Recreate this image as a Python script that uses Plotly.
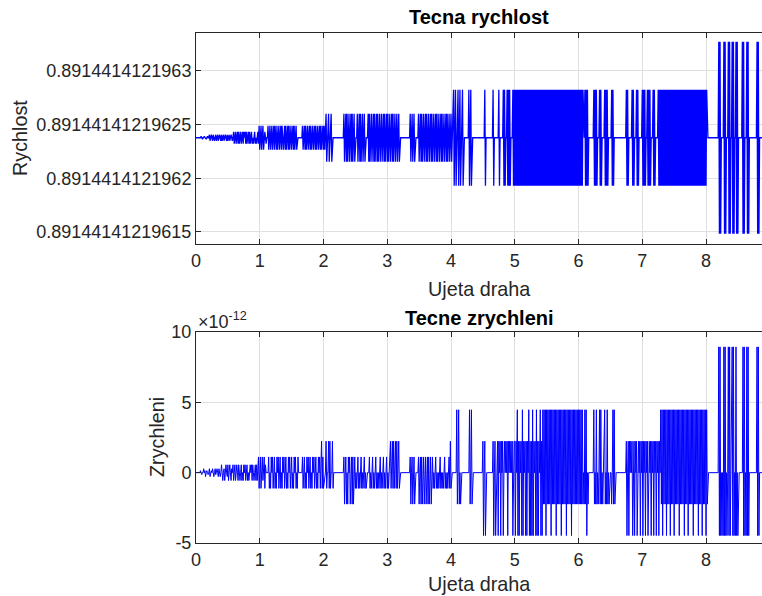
import numpy as np
import plotly.graph_objects as go

# Sampling of the travelled distance
KROK_DRAHY = 0.01
POCET_VZORKU = 889          # samples 0.00 .. 8.88
DRAHA_TICKY = [0, 1, 2, 3, 4, 5, 6, 7, 8]

# Velocity: plotted as deviation (in 1e-14) from RYCHLOST_ZAKLAD
RYCHLOST_ZAKLAD = 0.8914414121962
RYCHLOST_STRED = 3.78       # steady value, 1e-14 above the base
RYCHLOST_KVANTUM = 0.1397   # smallest step, 1e-14
RYCHLOST_TICKY = [0.89144141219615, 0.8914414121962, 0.89144141219625, 0.8914414121963]

# Acceleration: plotted in units of 1e-12
ZRYCHLENI_STRED = 0.0
ZRYCHLENI_KVANTUM = 0.1397  # smallest step, 1e-12
ZRYCHLENI_TICKY = [-5, 0, 5, 10]
ZRYCHLENI_POPISY = ["-5", "0", "5", "10"]

# Level codes per sample: '0' steady value, a..g = +1,2,4,8,16,32,64 steps, A..G negative
UROVNE = {'0': 0}
for znak, nasobek in zip("abcdefg", [1, 2, 4, 8, 16, 32, 64]):
    UROVNE[znak] = nasobek
    UROVNE[znak.upper()] = -nasobek

# Velocity samples: (start of run, codes of consecutive samples)
RYCHLOST_USEKY = [
    (0.00, "00000000a0A00a00A0a0"),
    (0.20, "0bB0b0Bb0B0bB0bB0b0B"),
    (0.40, "bB0bB0b0BbB0bB0b0B0c"),
    (0.60, "C0cC0cCcC0cC0cCc0cCc"),
    (0.80, "C0cCcC0cC0C0cC0C0cCd"),
    (1.00, "D0dD0dD0c0C00dD0dD0d"),
    (1.20, "D0dDd0DdD0dD0dDd0D0d"),
    (1.40, "DdD0dDdD0dD0dDdD0dD0"),
    (1.60, "0000000dD0dDdD0dD0dD"),
    (1.80, "dD0dD0dDdD0dD0dDdD0d"),
    (2.00, "DdD0eE00eE00eE000000"),
    (2.20, "000000000000eE0eEeE0"),
    (2.40, "eE0eEeE0eE000eE0eEeE"),
    (2.60, "0eE0eE0000eEeE0eE0eE"),
    (2.80, "eE0eEeE0eE0eE0eEeE0e"),
    (3.00, "EeE0eE0eEeE0eE0eE0eE"),
    (3.20, "0000000000000000eE0e"),
    (3.40, "E0eE00000eE0eEeE0eE0"),
    (3.60, "eEeE0eE0eEeE0eE0eEeE"),
    (3.80, "0eE0eEeE0eE0eEeE0eE0"),
    (4.00, "eE00fF0fF00fF0fF00fF"),
    (4.20, "00000000fF0fF0000000"),
    (4.40, "0000000000000fF00000"),
    (4.60, "000000fF0000000fF000"),
    (4.80, "00fFfF00fFfFfF000fFf"),
    (5.00, "FfFfFfFfFfFfFfFfFfFf"),
    (5.20, "FfFfFfFfFfFfFfFfFfFf"),
    (5.40, "FfFfFfFfFfFfFfFfFfFf"),
    (5.60, "FfFfFfFfFfFfFfFfFfFf"),
    (5.80, "FfFfFfFfFfFfFfFfFfFf"),
    (6.00, "FfFfFfFf00fFfFfF0000"),
    (6.20, "0000fFfFfF000fFfF000"),
    (6.40, "0fFfFfF00000fFfF0000"),
    (6.60, "000000000000000fFfF0"),
    (6.80, "0000fFfF000fFfF00000"),
    (7.00, "fFfFfF00fFfFfF000fFf"),
    (7.20, "F0000fFfFfFfFfFfFfFf"),
    (7.40, "FfFfFfFfFfFfFfFfFfFf"),
    (7.60, "FfFfFfFfFfFfFfFfFfFf"),
    (7.80, "FfFfFfFfFfFfFfFfFfFf"),
    (8.00, "Ff000000000000000000"),
    (8.20, "gGgG0000gGgG000gGgG0"),
    (8.40, "0gGgG00gGgG000000gGg"),
    (8.60, "G000gGgG000000000000"),
    (8.80, "gGgG0000"),
]

# Acceleration samples: (start of run, codes of consecutive samples)
ZRYCHLENI_USEKY = [
    (0.00, "0000000a0A00b0aB0a0A"),
    (0.20, "0bB0a0b0B0bA0b0Bb0B0"),
    (0.40, "c0C0bC0c0BcC0c0Cb0cC"),
    (0.60, "0cC0c0Cc0C0cC0Cc0cC0"),
    (0.80, "cC0C0c0cCc0C0cCcC0dD"),
    (1.00, "0dD0dC0dDc0000dD0Dd0"),
    (1.20, "dD0dD0Dd0dD0dD0Dd0dD"),
    (1.40, "0dD0Dd0dD0dD0Dd0dD0D"),
    (1.60, "d000000dD0dD0Dd0dD0d"),
    (1.80, "D0Dd0dD0dD0Dd0dD0eDd"),
    (2.00, "DC00eD00eDeD00eD0000"),
    (2.20, "000000000000dE0dE0Ed"),
    (2.40, "0dE0dEdE0dD0D0dD0D0d"),
    (2.60, "D0D0dD0D0000dD0D0dD0"),
    (2.80, "D0dD0D0D0dD0D0dD0D0d"),
    (3.00, "D0D00eD0eDeD0eDeD0eD"),
    (3.20, "0000000000000000dE0d"),
    (3.40, "E0dE00000dE0dEdE0dE0"),
    (3.60, "dE0dEdE0dE0dD0D0dD0D"),
    (3.80, "0D0dD0D0D0dD0D0D0dDe"),
    (4.00, "D00000000fE0fE0E0000"),
    (4.20, "000000000fE0fE000000"),
    (4.40, "0000000000eF0eF00000"),
    (4.60, "000000eF0eF00eFe0eFe"),
    (4.80, "0eF0e0e0eFe0e0e0eF0e"),
    (5.00, "eFe0fFeFe0eFfFe0eFeF"),
    (5.20, "e0fFeFeFfFe0eFfFeFe0"),
    (5.40, "fFeFfEfEfFfEfEfEfFfE"),
    (5.60, "fEfEfFfEfEfEfFfEfEfE"),
    (5.80, "fFfEfEfEfFfEfEfEfEfE"),
    (6.00, "fEfEfEfE0EfEfF0E0000"),
    (6.20, "0000fE0EfE0E0fEfE0E0"),
    (6.40, "0fE0EfE0E000E0fEfE00"),
    (6.60, "000000000000000eF0eF"),
    (6.80, "e0e0eF0eFe0eF0e0eFe0"),
    (7.00, "eFe0eFe0eF0e0eFe0eFe"),
    (7.20, "0eFe0eFe0fEfFfEfEfFf"),
    (7.40, "EfEfFfEfEfFfEfEfEfFf"),
    (7.60, "EfEfEfFfEfEfFfEfEfEf"),
    (7.80, "FfEfEfEfFfEfEfFfEfEf"),
    (8.00, "FfE00000000000000000"),
    (8.20, "gFgF0F0FgFgF0F0gFgF0"),
    (8.40, "0gFgF0FgF0F0000000gF"),
    (8.60, "gF0FgFgF000000000000"),
    (8.80, "gFgF0000"),
]


def rozvin(useky, stred, kvantum):
    """Expand the coded runs into one value per distance sample."""
    kroky = np.zeros(POCET_VZORKU)
    for zacatek, kody in useky:
        i0 = int(round(zacatek / KROK_DRAHY))
        for k, znak in enumerate(kody):
            kroky[i0 + k] = UROVNE[znak]
    return stred + kvantum * kroky


draha = np.arange(POCET_VZORKU) * KROK_DRAHY
rychlost = rozvin(RYCHLOST_USEKY, RYCHLOST_STRED, RYCHLOST_KVANTUM)
zrychleni = rozvin(ZRYCHLENI_USEKY, ZRYCHLENI_STRED, ZRYCHLENI_KVANTUM)

rychlost_tickpoz = [(t - RYCHLOST_ZAKLAD) * 1e14 for t in RYCHLOST_TICKY]
rychlost_ticktext = [repr(t) for t in RYCHLOST_TICKY]

MODRA = "#0000ff"
OSA = "#262626"
MRIZKA = "#dfdfdf"
PISMO = "Liberation Sans, Arial, Helvetica, sans-serif"
VELIKOST = 18
VELIKOST_POPISU = 19.8

fig = go.Figure()
fig.add_trace(go.Scatter(x=draha, y=rychlost, mode="lines",
                         line=dict(color=MODRA, width=1.3),
                         xaxis="x", yaxis="y", hoverinfo="skip"))
fig.add_trace(go.Scatter(x=draha, y=zrychleni, mode="lines",
                         line=dict(color=MODRA, width=1.0),
                         xaxis="x2", yaxis="y2", hoverinfo="skip"))

spolecna_osa = dict(
    ticks="inside", ticklen=5, tickcolor=OSA, showline=True, linecolor=OSA,
    linewidth=1, showgrid=True, gridcolor=MRIZKA, gridwidth=1, zeroline=False,
    tickfont=dict(family=PISMO, size=VELIKOST, color=OSA),
)

L, R, T, B = 196, 0, 33, 53
W, H = 762, 596
vyska = H - T - B


def py(y):
    """Pixel row -> paper coordinate."""
    return (H - B - y) / vyska


def px(x):
    """Pixel column -> paper coordinate."""
    return (x - L) / (W - L - R)


fig.update_layout(
    width=W, height=H,
    margin=dict(l=L, r=R, t=T, b=B, autoexpand=False),
    paper_bgcolor="white", plot_bgcolor="white",
    showlegend=False,
    xaxis=dict(domain=[0, 1], anchor="y", range=[0, 8.878], tickvals=DRAHA_TICKY,
               mirror="ticks", **spolecna_osa),
    yaxis=dict(domain=[py(244), 1], anchor="x", range=[-6.12, 13.54],
               tickvals=rychlost_tickpoz, ticktext=rychlost_ticktext,
               mirror=False, **spolecna_osa),
    xaxis2=dict(domain=[0, 1], anchor="y2", range=[0, 8.878], tickvals=DRAHA_TICKY,
                mirror="ticks", **spolecna_osa),
    yaxis2=dict(domain=[0, py(332)], anchor="x2", range=[-5, 10],
                tickvals=ZRYCHLENI_TICKY, ticktext=ZRYCHLENI_POPISY,
                mirror=False, **spolecna_osa),
)


def popisek(text, x, y, **kw):
    fig.add_annotation(text=text, x=x, y=y, xref="paper", yref="paper",
                       showarrow=False, xanchor=kw.pop("xanchor", "center"),
                       yanchor="middle",
                       font=dict(family=PISMO, size=kw.pop("size", VELIKOST_POPISU),
                                 color=kw.pop("color", OSA)),
                       **kw)


popisek("<b>Tecna rychlost</b>", 0.5, py(17), size=20, color="#000000")
popisek("<b>Tecne zrychleni</b>", 0.5, py(318), size=20, color="#000000")
popisek("Ujeta draha", 0.5, py(289))
popisek("Ujeta draha", 0.5, py(584))
popisek("Rychlost", px(20), py(138), textangle=-90)
popisek("Zrychleni", px(157), py(437), textangle=-90)
popisek("\u00d710<sup>-12</sup>", px(196), py(320), xanchor="left", size=VELIKOST)

fig.write_html("out.html")
